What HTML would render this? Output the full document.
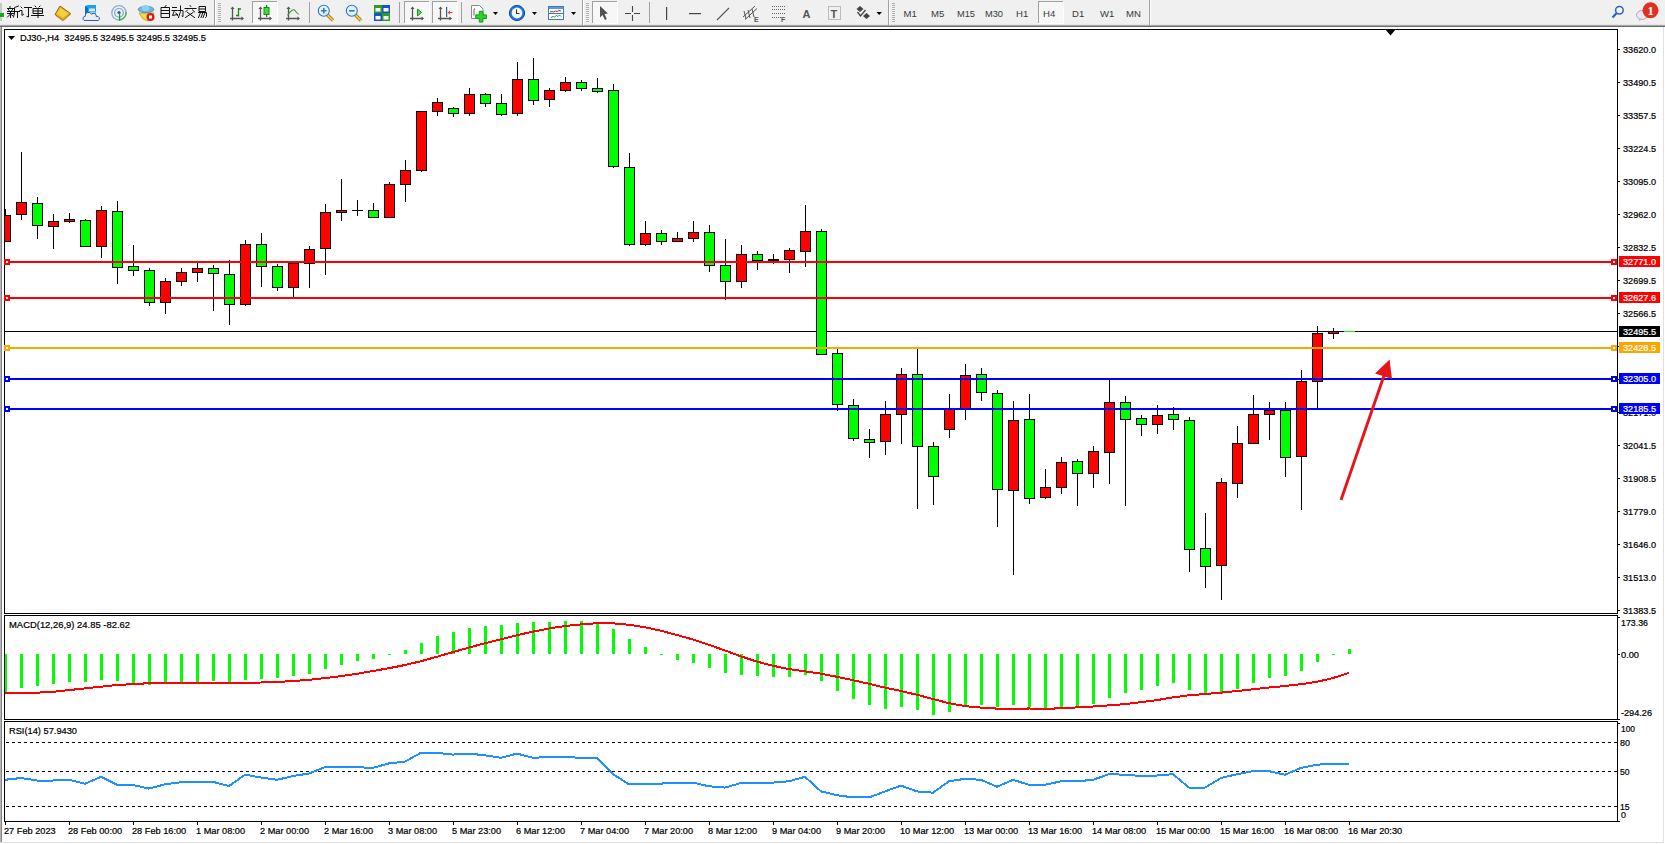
<!DOCTYPE html>
<html><head><meta charset="utf-8">
<style>
html,body{margin:0;padding:0;background:#fff;}
body{width:1665px;height:844px;overflow:hidden;position:relative;font-family:"Liberation Sans",sans-serif;}
svg{position:absolute;left:0;top:0;}
text.t{stroke:#000;stroke-width:0.22px;}
text.w{stroke:#fff;stroke-width:0.22px;}
</style></head><body>
<svg width="1665" height="844" viewBox="0 0 1665 844" font-family="Liberation Sans, sans-serif">

<rect x="0" y="0" width="1665" height="25" fill="#f0f0f0"/>
<rect x="0" y="24" width="1665" height="1" fill="#e4e4e4"/>
<rect x="0" y="25" width="1665" height="1" fill="#a8a8a8"/>
<rect x="0" y="26" width="1665" height="1" fill="#6a6a6a"/>
<rect x="0" y="27" width="1" height="816" fill="#b4b4b4"/>
<rect x="1" y="27" width="1" height="816" fill="#858585"/>
<rect x="1663" y="27" width="1" height="816" fill="#e0e0e0"/>
<rect x="0" y="842" width="1664" height="1" fill="#e0e0e0"/>
<g id="toolbar">
<!-- left partial icon -->
<rect x="0" y="3" width="2" height="18" fill="#c8c8c8"/>
<rect x="0" y="13" width="4" height="4" fill="#12b012"/>
<!-- 新订单 -->
<g stroke="#111" stroke-width="1" fill="none" stroke-linecap="square">
<path d="M10 6.5v1 M7.5 8.5h6 M8.5 9.5l.6 1 M12.5 9.5l-.6 1 M7.5 11.5h6 M7.5 13.5h6 M10.5 11.5v6 M10.5 14l-3 3 M10.5 14l2.5 2"/>
<path d="M18.5 6l-4 1.5v5.5l-1 4 M14.5 11.5h5 M17.5 11.5v6"/>
<path d="M21 7l1 1 M20 10.5h2v5l1.5-1.2 M24.5 7.5h7 M28.5 7.5v9.5l-1.5-.5"/>
<path d="M35 6l1 1 M40 6l-1 1 M33.5 8.5h9v5h-9z M33.5 11h9 M38 8.5v9 M31.5 15.5h12"/>
</g>
<!-- gold book -->
<polygon points="60,6 70.5,13.5 63,20.5 55,14.5" fill="#e6b422" stroke="#9a5a18" stroke-width="1"/><polygon points="60.5,8 68.5,13.5 62.8,17.5 57,13.5" fill="#f4d03a"/><path d="M56 16l7 5 8-7" stroke="#c89a50" stroke-width="0.8" fill="none"/>
<!-- cloud db icon -->
<polygon points="85,6 88,5 96,5 96,14 85,14" fill="#1aa0f0"/><polygon points="85,6 88,8 88,14 85,14" fill="#0a70d0"/><rect x="89" y="8.5" width="6" height="2.5" fill="#d8f0ff"/><rect x="88.5" y="11.5" width="7" height="2.5" fill="#9ad4fa"/>
<path d="M84 20.5 A2.3 2.3 0 0 1 85.3 16.3 A3.3 3.3 0 0 1 91.5 14.2 A2.8 2.8 0 0 1 96.3 16.6 A2.1 2.1 0 0 1 98.2 20.5 Z" fill="#e8ecf4" stroke="#3a5aa0" stroke-width="1"/>
<!-- signal icon -->
<circle cx="119" cy="12.8" r="7.2" fill="none" stroke="#8aaee0" stroke-width="1.3"/>
<circle cx="119" cy="12.8" r="4.3" fill="none" stroke="#7aa8d8" stroke-width="1.2"/>
<path d="M119 20 A7.2 7.2 0 0 0 126 12" fill="none" stroke="#5bb35b" stroke-width="1.5"/>
<circle cx="119" cy="12.5" r="1.6" fill="#2a5ac8"/>
<rect x="119" y="13" width="1.2" height="7.5" fill="#18a018"/>
<!-- EA hat icon -->
<polygon points="139,13 154,13 148,21 143,19" fill="#f2d84a" stroke="#c89a20" stroke-width="0.8"/>
<ellipse cx="146" cy="9.5" rx="7.8" ry="3.2" fill="#6cb8e0" stroke="#3a8ab8" stroke-width="0.8"/>
<ellipse cx="145.5" cy="8" rx="4" ry="3" fill="#8ed0f0"/>
<circle cx="150.5" cy="17" r="4" fill="#d82010"/>
<rect x="149" y="15.5" width="3" height="3" fill="#fff"/>
<!-- 自动交易 -->
<g stroke="#111" stroke-width="1" fill="none" stroke-linecap="square">
<path d="M166 5.5l-1 1.2 M161.5 7.5h8v10h-8z M161.5 10.5h8 M161.5 13.5h8"/>
<path d="M172.5 7.5h4 M172 10.5h5 M174.5 10.5l-2 5 5-1 M176 13l1.5 2.5 M178 10.5h5v6l-1-.5 M180.5 6v5.5l-2 6"/>
<path d="M190 5.5l.8 1 M185 8.5h11 M187.5 10l-1.8 1.8 M192.5 10l2 1.8 M187.5 12.5l7 5 M193 12.5l-7.5 5"/>
<path d="M199.5 6.5h6v5h-6z M199.5 9h6 M198.5 12.5h8v4l-1 1 M200.5 12.5l-2 5 M203 12.5l-2 5 M205 13l-2 4.5"/>
</g>
<!-- separator and grip -->
<rect x="214" y="0" width="1" height="25" fill="#a0a0a0"/>
<rect x="215" y="0" width="1" height="25" fill="#ffffff"/>
<g fill="#b0b0b0"><rect x="218" y="3" width="3" height="1"/><rect x="218" y="5" width="3" height="1"/><rect x="218" y="7" width="3" height="1"/><rect x="218" y="9" width="3" height="1"/><rect x="218" y="11" width="3" height="1"/><rect x="218" y="13" width="3" height="1"/><rect x="218" y="15" width="3" height="1"/><rect x="218" y="17" width="3" height="1"/><rect x="218" y="19" width="3" height="1"/><rect x="218" y="21" width="3" height="1"/></g>
<!-- pressed frames -->
<g>
<rect x="252" y="1" width="25" height="22" fill="#f7f7f7"/><rect x="252" y="1" width="25" height="1" fill="#a0a0a0"/><rect x="252" y="1" width="1" height="22" fill="#a0a0a0"/><rect x="277" y="1" width="1" height="23" fill="#fff"/><rect x="252" y="23" width="26" height="1" fill="#fff"/>
<rect x="404" y="1" width="25" height="22" fill="#f7f7f7"/><rect x="404" y="1" width="25" height="1" fill="#a0a0a0"/><rect x="404" y="1" width="1" height="22" fill="#a0a0a0"/><rect x="429" y="1" width="1" height="23" fill="#fff"/><rect x="404" y="23" width="26" height="1" fill="#fff"/>
<rect x="432" y="1" width="25" height="22" fill="#f7f7f7"/><rect x="432" y="1" width="25" height="1" fill="#a0a0a0"/><rect x="432" y="1" width="1" height="22" fill="#a0a0a0"/><rect x="457" y="1" width="1" height="23" fill="#fff"/><rect x="432" y="23" width="26" height="1" fill="#fff"/>
<rect x="592" y="1" width="25" height="22" fill="#f7f7f7"/><rect x="592" y="1" width="25" height="1" fill="#a0a0a0"/><rect x="592" y="1" width="1" height="22" fill="#a0a0a0"/><rect x="617" y="1" width="1" height="23" fill="#fff"/><rect x="592" y="23" width="26" height="1" fill="#fff"/>
<rect x="1038" y="1" width="25" height="22" fill="#f7f7f7"/><rect x="1038" y="1" width="25" height="1" fill="#a0a0a0"/><rect x="1038" y="1" width="1" height="22" fill="#a0a0a0"/><rect x="1063" y="1" width="1" height="23" fill="#fff"/><rect x="1038" y="23" width="26" height="1" fill="#fff"/>
</g>
<!-- axis icons -->
<g stroke="#555" stroke-width="1.3" fill="#555">
<path d="M232.5 20.5v-13 M230 18.5h13" fill="none"/><polygon points="232.5,6.5 230.5,9 234.5,9" stroke="none"/><polygon points="244,18.5 241.5,16.5 241.5,20.5" stroke="none"/>
<path d="M260.5 20.5v-13 M258 18.5h13" fill="none"/><polygon points="260.5,6.5 258.5,9 262.5,9" stroke="none"/><polygon points="272,18.5 269.5,16.5 269.5,20.5" stroke="none"/>
<path d="M288.5 20.5v-13 M286 18.5h13" fill="none"/><polygon points="288.5,6.5 286.5,9 290.5,9" stroke="none"/><polygon points="300,18.5 297.5,16.5 297.5,20.5" stroke="none"/>
<path d="M412.5 20.5v-13 M410 18.5h13" fill="none"/><polygon points="412.5,6.5 410.5,9 414.5,9" stroke="none"/><polygon points="424,18.5 421.5,16.5 421.5,20.5" stroke="none"/>
<path d="M440.5 20.5v-13 M438 18.5h13" fill="none"/><polygon points="440.5,6.5 438.5,9 442.5,9" stroke="none"/><polygon points="452,18.5 449.5,16.5 449.5,20.5" stroke="none"/>
</g>
<path d="M238.5 8v8.5 M238.5 9h2.5 M238.5 15.5h-2.5" stroke="#109010" stroke-width="1.3" fill="none"/>
<rect x="266" y="5" width="1.2" height="12" fill="#108a10"/>
<rect x="264" y="7.5" width="5" height="7" fill="#40dd40" stroke="#108a10" stroke-width="1"/>
<path d="M287.5 15.5 Q293 7.5 295 10.5 Q297 13.5 298.8 14.2" stroke="#2aa02a" stroke-width="1.1" fill="none"/>
<polygon points="417.5,9 421.5,12.5 417.5,16" fill="#50e050" stroke="#10a010" stroke-width="1"/>
<rect x="446" y="7" width="1.2" height="10" fill="#1a6aa0"/>
<polygon points="447.5,12.5 450,10.5 450,12 452.5,12 452.5,13 450,13 450,14.5" fill="#e85010"/>
<!-- separators -->
<rect x="309" y="2" width="1" height="21" fill="#a0a0a0"/>
<rect x="399" y="2" width="1" height="21" fill="#a0a0a0"/>
<rect x="461" y="2" width="1" height="21" fill="#a0a0a0"/>
<rect x="649" y="2" width="1" height="21" fill="#a0a0a0"/>
<!-- zoom icons -->
<g>
<line x1="327.5" y1="15" x2="333" y2="20.5" stroke="#b07a10" stroke-width="3.2"/>
<line x1="327.5" y1="15" x2="333" y2="20.5" stroke="#f0d840" stroke-width="1.6"/>
<circle cx="323.8" cy="10.8" r="5.5" fill="#dff2fc" stroke="#2a78c8" stroke-width="1.1"/>
<path d="M321 10.8h5.6 M323.8 8v5.6" stroke="#3a7aa8" stroke-width="1.6"/>
<line x1="355.5" y1="15" x2="361" y2="20.5" stroke="#b07a10" stroke-width="3.2"/>
<line x1="355.5" y1="15" x2="361" y2="20.5" stroke="#f0d840" stroke-width="1.6"/>
<circle cx="351.8" cy="10.8" r="5.5" fill="#dff2fc" stroke="#2a78c8" stroke-width="1.1"/>
<path d="M349 10.8h5.6" stroke="#3a7aa8" stroke-width="1.6"/>
</g>
<!-- tile icon -->
<rect x="374" y="5" width="8" height="8" fill="#2aa020"/><rect x="382" y="5" width="8" height="8" fill="#1a50c8"/>
<rect x="374" y="13" width="8" height="8" fill="#1a50c8"/><rect x="382" y="13" width="8" height="8" fill="#2aa020"/>
<g fill="#fff"><rect x="375.5" y="8" width="5" height="3.5"/><rect x="383.5" y="8" width="5" height="3.5"/><rect x="375.5" y="16" width="5" height="3.5"/><rect x="383.5" y="16" width="5" height="3.5"/></g>
<!-- add indicator -->
<path d="M471.5 5.5h8l3.5 3.5v9.5h-11.5z" fill="#fafafa" stroke="#8a8a8a" stroke-width="1"/>
<path d="M475 8.5q-1 0-1 2v5" stroke="#555" stroke-width="0.9" fill="none"/>
<path d="M479.3 11.3h3.6v3.6h3.6v3.6h-3.6v3.6h-3.6v-3.6h-3.6v-3.6h3.6z" fill="#30d030" stroke="#10a010" stroke-width="1"/>
<polygon points="493,12 498,12 495.5,15" fill="#000"/>
<!-- clock -->
<circle cx="517" cy="13" r="7.6" fill="#1a78d8" stroke="#0a4aa0" stroke-width="1"/>
<circle cx="517" cy="13" r="5.4" fill="#f4f8fc"/>
<path d="M516.5 9.5v4h3" stroke="#333" stroke-width="1.1" fill="none"/>
<polygon points="532,12 537,12 534.5,15" fill="#000"/>
<!-- templates -->
<rect x="548.5" y="6.5" width="15" height="13" fill="#fff" stroke="#3a78c8" stroke-width="1"/>
<rect x="549" y="7" width="14" height="2" fill="#5a9ae0"/>
<rect x="549" y="13" width="14" height="1" fill="#3a78c8"/>
<path d="M550 12l2-.5 1.5.5 2-1 1.5.5 2-1 2 .5" stroke="#a02010" stroke-width="0.9" fill="none"/>
<path d="M551 17.5l2-1 1.5.5 2-1.5 1.5 1 1.5-1.5 1.5 1.5" stroke="#109010" stroke-width="0.9" fill="none"/>
<polygon points="571,12 576,12 573.5,15" fill="#000"/>
<!-- toolbar boundary + grip -->
<rect x="582" y="0" width="1" height="25" fill="#a0a0a0"/>
<rect x="583" y="0" width="1" height="25" fill="#fff"/>
<g fill="#b0b0b0"><rect x="586" y="3" width="3" height="1"/><rect x="586" y="5" width="3" height="1"/><rect x="586" y="7" width="3" height="1"/><rect x="586" y="9" width="3" height="1"/><rect x="586" y="11" width="3" height="1"/><rect x="586" y="13" width="3" height="1"/><rect x="586" y="15" width="3" height="1"/><rect x="586" y="17" width="3" height="1"/><rect x="586" y="19" width="3" height="1"/><rect x="586" y="21" width="3" height="1"/></g>
<!-- cursor -->
<polygon points="600,6 608,13.5 604.5,14 606.8,19 605,20 602.5,15 600,17.5" fill="#505050"/>
<!-- crosshair -->
<path d="M625 13.5h6 M634 13.5h6 M632.5 6v6 M632.5 15v6" stroke="#444" stroke-width="1.1"/>
<!-- vertical line -->
<rect x="666" y="7" width="1.2" height="13" fill="#444"/>
<!-- horizontal line -->
<rect x="689" y="13" width="12" height="1.2" fill="#444"/>
<!-- trend line -->
<line x1="717" y1="20" x2="729" y2="8" stroke="#555" stroke-width="1.1"/>
<!-- channel -->
<g stroke="#555" stroke-width="1" fill="none">
<path d="M743 17l12-11 M745 19.5l12-11 M744 11l2 8 M748 10l2 8 M752 9l2 8"/>
</g>
<text x="754" y="21.5" font-size="7" font-weight="bold" fill="#555">E</text>
<!-- fibo -->
<g stroke="#666" stroke-width="1" stroke-dasharray="1,1" fill="none">
<path d="M772 6.5h13 M772 9.5h13 M772 13.5h13 M772 17.5h9"/>
</g>
<text x="781" y="21.5" font-size="7" font-weight="bold" fill="#555">F</text>
<!-- text A -->
<text x="802.5" y="18" font-size="11" font-weight="bold" fill="#555">A</text>
<!-- text label T -->
<rect x="828.5" y="6.5" width="12" height="13" fill="none" stroke="#888" stroke-width="1" stroke-dasharray="1,1"/>
<text x="830.5" y="17.5" font-size="11" font-weight="bold" fill="#555">T</text>
<!-- arrows -->
<polygon points="860,6 863.5,9 860,12 856.5,9" fill="#444"/>
<path d="M857.5 12l3 4 5-6" stroke="#444" stroke-width="1.3" fill="none"/>
<polygon points="866.5,13 870,16 866.5,19 863,16" fill="#444"/>
<polygon points="876.5,12 882,12 879.2,15" fill="#000"/>
<!-- separator + grip -->
<rect x="888" y="0" width="1" height="25" fill="#a0a0a0"/>
<rect x="889" y="0" width="1" height="25" fill="#fff"/>
<g fill="#b0b0b0"><rect x="892" y="3" width="3" height="1"/><rect x="892" y="5" width="3" height="1"/><rect x="892" y="7" width="3" height="1"/><rect x="892" y="9" width="3" height="1"/><rect x="892" y="11" width="3" height="1"/><rect x="892" y="13" width="3" height="1"/><rect x="892" y="15" width="3" height="1"/><rect x="892" y="17" width="3" height="1"/><rect x="892" y="19" width="3" height="1"/><rect x="892" y="21" width="3" height="1"/></g>
<!-- timeframes -->
<g font-size="9.6" fill="#3a3a3a">
<text x="903.5" y="17">M1</text>
<text x="931" y="17">M5</text>
<text x="957" y="17" textLength="18" lengthAdjust="spacingAndGlyphs">M15</text>
<text x="985" y="17" textLength="18" lengthAdjust="spacingAndGlyphs">M30</text>
<text x="1016" y="17">H1</text>
<text x="1043" y="17">H4</text>
<text x="1072" y="17">D1</text>
<text x="1100" y="17">W1</text>
<text x="1126" y="17">MN</text>
</g>
<rect x="1149" y="0" width="1" height="25" fill="#a0a0a0"/>
<rect x="1150" y="0" width="1" height="25" fill="#fff"/>
<!-- search -->
<circle cx="1619.4" cy="10.2" r="3.8" fill="#f8f8ff" stroke="#2a60d0" stroke-width="1.5"/>
<line x1="1616.5" y1="13.2" x2="1612.5" y2="17.5" stroke="#2a60d0" stroke-width="2.2"/>
<!-- chat bubble + badge -->
<ellipse cx="1642" cy="15" rx="5.5" ry="4.5" fill="#e8e8f0" stroke="#a8a8a8" stroke-width="0.9"/>
<polygon points="1639,18.5 1639,21.5 1642,19" fill="#c0c0c0"/>
<circle cx="1650.5" cy="10.3" r="8" fill="#e03020"/>
<text x="1650.6" y="15" font-size="12.5" font-weight="bold" fill="#fff" text-anchor="middle" font-family="Liberation Serif, serif">1</text>
</g>

<defs><clipPath id="cm"><rect x="5" y="30" width="1612" height="583"/></clipPath><clipPath id="cd"><rect x="5" y="616" width="1612" height="103"/></clipPath><clipPath id="cr"><rect x="5" y="722" width="1612" height="99"/></clipPath></defs>
<g clip-path="url(#cm)" shape-rendering="crispEdges">
<rect x="4" y="331" width="1613" height="1" fill="#000"/>
<rect x="5" y="209" width="1" height="33" fill="#000"/>
<rect x="0" y="215" width="11" height="27" fill="#000"/>
<rect x="1" y="216" width="9" height="25" fill="#ff0000"/>
<rect x="21" y="152" width="1" height="68" fill="#000"/>
<rect x="16" y="202" width="11" height="13" fill="#000"/>
<rect x="17" y="203" width="9" height="11" fill="#ff0000"/>
<rect x="37" y="197" width="1" height="42" fill="#000"/>
<rect x="32" y="203" width="11" height="23" fill="#000"/>
<rect x="33" y="204" width="9" height="21" fill="#00ff00"/>
<rect x="53" y="214" width="1" height="35" fill="#000"/>
<rect x="48" y="221" width="11" height="6" fill="#000"/>
<rect x="49" y="222" width="9" height="4" fill="#ff0000"/>
<rect x="69" y="213" width="1" height="10" fill="#000"/>
<rect x="64" y="219" width="11" height="3" fill="#000"/>
<rect x="65" y="220" width="9" height="1" fill="#ff0000"/>
<rect x="85" y="219" width="1" height="28" fill="#000"/>
<rect x="80" y="220" width="11" height="27" fill="#000"/>
<rect x="81" y="221" width="9" height="25" fill="#00ff00"/>
<rect x="101" y="206" width="1" height="52" fill="#000"/>
<rect x="96" y="210" width="11" height="37" fill="#000"/>
<rect x="97" y="211" width="9" height="35" fill="#ff0000"/>
<rect x="117" y="201" width="1" height="83" fill="#000"/>
<rect x="112" y="211" width="11" height="57" fill="#000"/>
<rect x="113" y="212" width="9" height="55" fill="#00ff00"/>
<rect x="133" y="245" width="1" height="31" fill="#000"/>
<rect x="128" y="266" width="11" height="5" fill="#000"/>
<rect x="129" y="267" width="9" height="3" fill="#00ff00"/>
<rect x="149" y="268" width="1" height="38" fill="#000"/>
<rect x="144" y="270" width="11" height="33" fill="#000"/>
<rect x="145" y="271" width="9" height="31" fill="#00ff00"/>
<rect x="165" y="278" width="1" height="36" fill="#000"/>
<rect x="160" y="281" width="11" height="22" fill="#000"/>
<rect x="161" y="282" width="9" height="20" fill="#ff0000"/>
<rect x="181" y="268" width="1" height="18" fill="#000"/>
<rect x="176" y="272" width="11" height="10" fill="#000"/>
<rect x="177" y="273" width="9" height="8" fill="#ff0000"/>
<rect x="197" y="263" width="1" height="19" fill="#000"/>
<rect x="192" y="268" width="11" height="5" fill="#000"/>
<rect x="193" y="269" width="9" height="3" fill="#ff0000"/>
<rect x="213" y="265" width="1" height="46" fill="#000"/>
<rect x="208" y="268" width="11" height="6" fill="#000"/>
<rect x="209" y="269" width="9" height="4" fill="#00ff00"/>
<rect x="229" y="260" width="1" height="65" fill="#000"/>
<rect x="224" y="274" width="11" height="31" fill="#000"/>
<rect x="225" y="275" width="9" height="29" fill="#00ff00"/>
<rect x="245" y="240" width="1" height="66" fill="#000"/>
<rect x="240" y="244" width="11" height="61" fill="#000"/>
<rect x="241" y="245" width="9" height="59" fill="#ff0000"/>
<rect x="261" y="233" width="1" height="54" fill="#000"/>
<rect x="256" y="244" width="11" height="23" fill="#000"/>
<rect x="257" y="245" width="9" height="21" fill="#00ff00"/>
<rect x="277" y="264" width="1" height="27" fill="#000"/>
<rect x="272" y="266" width="11" height="22" fill="#000"/>
<rect x="273" y="267" width="9" height="20" fill="#00ff00"/>
<rect x="293" y="262" width="1" height="36" fill="#000"/>
<rect x="288" y="263" width="11" height="25" fill="#000"/>
<rect x="289" y="264" width="9" height="23" fill="#ff0000"/>
<rect x="309" y="246" width="1" height="42" fill="#000"/>
<rect x="304" y="249" width="11" height="15" fill="#000"/>
<rect x="305" y="250" width="9" height="13" fill="#ff0000"/>
<rect x="325" y="204" width="1" height="71" fill="#000"/>
<rect x="320" y="212" width="11" height="37" fill="#000"/>
<rect x="321" y="213" width="9" height="35" fill="#ff0000"/>
<rect x="341" y="179" width="1" height="42" fill="#000"/>
<rect x="336" y="210" width="11" height="3" fill="#000"/>
<rect x="337" y="211" width="9" height="1" fill="#ff0000"/>
<rect x="357" y="200" width="1" height="16" fill="#000"/>
<rect x="352" y="210" width="11" height="1" fill="#000"/>
<rect x="373" y="203" width="1" height="15" fill="#000"/>
<rect x="368" y="210" width="11" height="8" fill="#000"/>
<rect x="369" y="211" width="9" height="6" fill="#00ff00"/>
<rect x="389" y="182" width="1" height="36" fill="#000"/>
<rect x="384" y="184" width="11" height="34" fill="#000"/>
<rect x="385" y="185" width="9" height="32" fill="#ff0000"/>
<rect x="405" y="160" width="1" height="42" fill="#000"/>
<rect x="400" y="170" width="11" height="15" fill="#000"/>
<rect x="401" y="171" width="9" height="13" fill="#ff0000"/>
<rect x="421" y="111" width="1" height="61" fill="#000"/>
<rect x="416" y="111" width="11" height="60" fill="#000"/>
<rect x="417" y="112" width="9" height="58" fill="#ff0000"/>
<rect x="437" y="98" width="1" height="18" fill="#000"/>
<rect x="432" y="102" width="11" height="10" fill="#000"/>
<rect x="433" y="103" width="9" height="8" fill="#ff0000"/>
<rect x="453" y="107" width="1" height="10" fill="#000"/>
<rect x="448" y="108" width="11" height="6" fill="#000"/>
<rect x="449" y="109" width="9" height="4" fill="#00ff00"/>
<rect x="469" y="88" width="1" height="28" fill="#000"/>
<rect x="464" y="94" width="11" height="20" fill="#000"/>
<rect x="465" y="95" width="9" height="18" fill="#ff0000"/>
<rect x="485" y="93" width="1" height="14" fill="#000"/>
<rect x="480" y="94" width="11" height="10" fill="#000"/>
<rect x="481" y="95" width="9" height="8" fill="#00ff00"/>
<rect x="501" y="94" width="1" height="22" fill="#000"/>
<rect x="496" y="103" width="11" height="12" fill="#000"/>
<rect x="497" y="104" width="9" height="10" fill="#00ff00"/>
<rect x="517" y="62" width="1" height="54" fill="#000"/>
<rect x="512" y="79" width="11" height="35" fill="#000"/>
<rect x="513" y="80" width="9" height="33" fill="#ff0000"/>
<rect x="533" y="58" width="1" height="47" fill="#000"/>
<rect x="528" y="79" width="11" height="22" fill="#000"/>
<rect x="529" y="80" width="9" height="20" fill="#00ff00"/>
<rect x="549" y="88" width="1" height="19" fill="#000"/>
<rect x="544" y="90" width="11" height="10" fill="#000"/>
<rect x="545" y="91" width="9" height="8" fill="#ff0000"/>
<rect x="565" y="77" width="1" height="15" fill="#000"/>
<rect x="560" y="82" width="11" height="9" fill="#000"/>
<rect x="561" y="83" width="9" height="7" fill="#ff0000"/>
<rect x="581" y="80" width="1" height="11" fill="#000"/>
<rect x="576" y="82" width="11" height="7" fill="#000"/>
<rect x="577" y="83" width="9" height="5" fill="#00ff00"/>
<rect x="597" y="78" width="1" height="15" fill="#000"/>
<rect x="592" y="88" width="11" height="4" fill="#000"/>
<rect x="593" y="89" width="9" height="2" fill="#00ff00"/>
<rect x="613" y="84" width="1" height="84" fill="#000"/>
<rect x="608" y="90" width="11" height="77" fill="#000"/>
<rect x="609" y="91" width="9" height="75" fill="#00ff00"/>
<rect x="629" y="153" width="1" height="93" fill="#000"/>
<rect x="624" y="167" width="11" height="78" fill="#000"/>
<rect x="625" y="168" width="9" height="76" fill="#00ff00"/>
<rect x="645" y="221" width="1" height="25" fill="#000"/>
<rect x="640" y="233" width="11" height="12" fill="#000"/>
<rect x="641" y="234" width="9" height="10" fill="#ff0000"/>
<rect x="661" y="230" width="1" height="15" fill="#000"/>
<rect x="656" y="233" width="11" height="9" fill="#000"/>
<rect x="657" y="234" width="9" height="7" fill="#00ff00"/>
<rect x="677" y="232" width="1" height="10" fill="#000"/>
<rect x="672" y="238" width="11" height="4" fill="#000"/>
<rect x="673" y="239" width="9" height="2" fill="#ff0000"/>
<rect x="693" y="221" width="1" height="21" fill="#000"/>
<rect x="688" y="232" width="11" height="7" fill="#000"/>
<rect x="689" y="233" width="9" height="5" fill="#ff0000"/>
<rect x="709" y="225" width="1" height="47" fill="#000"/>
<rect x="704" y="232" width="11" height="34" fill="#000"/>
<rect x="705" y="233" width="9" height="32" fill="#00ff00"/>
<rect x="725" y="239" width="1" height="61" fill="#000"/>
<rect x="720" y="265" width="11" height="17" fill="#000"/>
<rect x="721" y="266" width="9" height="15" fill="#00ff00"/>
<rect x="741" y="245" width="1" height="43" fill="#000"/>
<rect x="736" y="254" width="11" height="28" fill="#000"/>
<rect x="737" y="255" width="9" height="26" fill="#ff0000"/>
<rect x="757" y="251" width="1" height="19" fill="#000"/>
<rect x="752" y="254" width="11" height="7" fill="#000"/>
<rect x="753" y="255" width="9" height="5" fill="#00ff00"/>
<rect x="773" y="254" width="1" height="10" fill="#000"/>
<rect x="768" y="259" width="11" height="2" fill="#000"/>
<rect x="789" y="248" width="1" height="25" fill="#000"/>
<rect x="784" y="250" width="11" height="10" fill="#000"/>
<rect x="785" y="251" width="9" height="8" fill="#ff0000"/>
<rect x="805" y="205" width="1" height="62" fill="#000"/>
<rect x="800" y="231" width="11" height="21" fill="#000"/>
<rect x="801" y="232" width="9" height="19" fill="#ff0000"/>
<rect x="821" y="229" width="1" height="126" fill="#000"/>
<rect x="816" y="231" width="11" height="124" fill="#000"/>
<rect x="817" y="232" width="9" height="122" fill="#00ff00"/>
<rect x="837" y="349" width="1" height="62" fill="#000"/>
<rect x="832" y="353" width="11" height="52" fill="#000"/>
<rect x="833" y="354" width="9" height="50" fill="#00ff00"/>
<rect x="853" y="399" width="1" height="42" fill="#000"/>
<rect x="848" y="405" width="11" height="34" fill="#000"/>
<rect x="849" y="406" width="9" height="32" fill="#00ff00"/>
<rect x="869" y="429" width="1" height="29" fill="#000"/>
<rect x="864" y="439" width="11" height="4" fill="#000"/>
<rect x="865" y="440" width="9" height="2" fill="#00ff00"/>
<rect x="885" y="401" width="1" height="54" fill="#000"/>
<rect x="880" y="414" width="11" height="28" fill="#000"/>
<rect x="881" y="415" width="9" height="26" fill="#ff0000"/>
<rect x="901" y="368" width="1" height="76" fill="#000"/>
<rect x="896" y="374" width="11" height="41" fill="#000"/>
<rect x="897" y="375" width="9" height="39" fill="#ff0000"/>
<rect x="917" y="349" width="1" height="160" fill="#000"/>
<rect x="912" y="374" width="11" height="73" fill="#000"/>
<rect x="913" y="375" width="9" height="71" fill="#00ff00"/>
<rect x="933" y="442" width="1" height="63" fill="#000"/>
<rect x="928" y="446" width="11" height="31" fill="#000"/>
<rect x="929" y="447" width="9" height="29" fill="#00ff00"/>
<rect x="949" y="394" width="1" height="44" fill="#000"/>
<rect x="944" y="409" width="11" height="21" fill="#000"/>
<rect x="945" y="410" width="9" height="19" fill="#ff0000"/>
<rect x="965" y="364" width="1" height="56" fill="#000"/>
<rect x="960" y="375" width="11" height="34" fill="#000"/>
<rect x="961" y="376" width="9" height="32" fill="#ff0000"/>
<rect x="981" y="368" width="1" height="33" fill="#000"/>
<rect x="976" y="374" width="11" height="19" fill="#000"/>
<rect x="977" y="375" width="9" height="17" fill="#00ff00"/>
<rect x="997" y="390" width="1" height="137" fill="#000"/>
<rect x="992" y="393" width="11" height="97" fill="#000"/>
<rect x="993" y="394" width="9" height="95" fill="#00ff00"/>
<rect x="1013" y="401" width="1" height="174" fill="#000"/>
<rect x="1008" y="420" width="11" height="71" fill="#000"/>
<rect x="1009" y="421" width="9" height="69" fill="#ff0000"/>
<rect x="1029" y="394" width="1" height="110" fill="#000"/>
<rect x="1024" y="419" width="11" height="80" fill="#000"/>
<rect x="1025" y="420" width="9" height="78" fill="#00ff00"/>
<rect x="1045" y="469" width="1" height="30" fill="#000"/>
<rect x="1040" y="487" width="11" height="11" fill="#000"/>
<rect x="1041" y="488" width="9" height="9" fill="#ff0000"/>
<rect x="1061" y="457" width="1" height="37" fill="#000"/>
<rect x="1056" y="462" width="11" height="26" fill="#000"/>
<rect x="1057" y="463" width="9" height="24" fill="#ff0000"/>
<rect x="1077" y="459" width="1" height="47" fill="#000"/>
<rect x="1072" y="461" width="11" height="13" fill="#000"/>
<rect x="1073" y="462" width="9" height="11" fill="#00ff00"/>
<rect x="1093" y="446" width="1" height="42" fill="#000"/>
<rect x="1088" y="451" width="11" height="23" fill="#000"/>
<rect x="1089" y="452" width="9" height="21" fill="#ff0000"/>
<rect x="1109" y="380" width="1" height="104" fill="#000"/>
<rect x="1104" y="402" width="11" height="51" fill="#000"/>
<rect x="1105" y="403" width="9" height="49" fill="#ff0000"/>
<rect x="1125" y="396" width="1" height="110" fill="#000"/>
<rect x="1120" y="402" width="11" height="18" fill="#000"/>
<rect x="1121" y="403" width="9" height="16" fill="#00ff00"/>
<rect x="1141" y="415" width="1" height="21" fill="#000"/>
<rect x="1136" y="418" width="11" height="7" fill="#000"/>
<rect x="1137" y="419" width="9" height="5" fill="#00ff00"/>
<rect x="1157" y="405" width="1" height="29" fill="#000"/>
<rect x="1152" y="415" width="11" height="10" fill="#000"/>
<rect x="1153" y="416" width="9" height="8" fill="#ff0000"/>
<rect x="1173" y="407" width="1" height="23" fill="#000"/>
<rect x="1168" y="414" width="11" height="6" fill="#000"/>
<rect x="1169" y="415" width="9" height="4" fill="#00ff00"/>
<rect x="1189" y="417" width="1" height="155" fill="#000"/>
<rect x="1184" y="420" width="11" height="130" fill="#000"/>
<rect x="1185" y="421" width="9" height="128" fill="#00ff00"/>
<rect x="1205" y="513" width="1" height="75" fill="#000"/>
<rect x="1200" y="548" width="11" height="19" fill="#000"/>
<rect x="1201" y="549" width="9" height="17" fill="#00ff00"/>
<rect x="1221" y="478" width="1" height="122" fill="#000"/>
<rect x="1216" y="482" width="11" height="84" fill="#000"/>
<rect x="1217" y="483" width="9" height="82" fill="#ff0000"/>
<rect x="1237" y="426" width="1" height="72" fill="#000"/>
<rect x="1232" y="443" width="11" height="41" fill="#000"/>
<rect x="1233" y="444" width="9" height="39" fill="#ff0000"/>
<rect x="1253" y="395" width="1" height="49" fill="#000"/>
<rect x="1248" y="414" width="11" height="30" fill="#000"/>
<rect x="1249" y="415" width="9" height="28" fill="#ff0000"/>
<rect x="1269" y="402" width="1" height="38" fill="#000"/>
<rect x="1264" y="410" width="11" height="5" fill="#000"/>
<rect x="1265" y="411" width="9" height="3" fill="#ff0000"/>
<rect x="1285" y="402" width="1" height="75" fill="#000"/>
<rect x="1280" y="410" width="11" height="48" fill="#000"/>
<rect x="1281" y="411" width="9" height="46" fill="#00ff00"/>
<rect x="1301" y="370" width="1" height="140" fill="#000"/>
<rect x="1296" y="381" width="11" height="76" fill="#000"/>
<rect x="1297" y="382" width="9" height="74" fill="#ff0000"/>
<rect x="1317" y="326" width="1" height="82" fill="#000"/>
<rect x="1312" y="333" width="11" height="49" fill="#000"/>
<rect x="1313" y="334" width="9" height="47" fill="#ff0000"/>
<rect x="1333" y="328" width="1" height="11" fill="#000"/>
<rect x="1328" y="331" width="11" height="3" fill="#000"/>
<rect x="1329" y="332" width="9" height="1" fill="#ff0000"/>
<rect x="1344" y="331" width="11" height="1" fill="#00ff00"/>
<rect x="4" y="261" width="1613" height="2" fill="#ff0000"/>
<rect x="4" y="297" width="1613" height="2" fill="#ff0000"/>
<rect x="4" y="347" width="1613" height="2" fill="#ffa500"/>
<rect x="4" y="378" width="1613" height="2" fill="#0000ff"/>
<rect x="4" y="408" width="1613" height="2" fill="#0000ff"/>
</g>
<g clip-path="url(#cm)">
<line x1="1341" y1="500" x2="1385.6" y2="371" stroke="#e8141c" stroke-width="2.9"/>
<polygon points="1389.6,359.5 1375,373.5 1392,379" fill="#e8141c"/>
</g>
<polygon points="1385,29 1396,29 1390.5,35.5" fill="#000"/>
<polygon points="8,36 15,36 11.5,40" fill="#000"/>
<text x="20" y="41" class="t" font-size="9.2" fill="#000" xml:space="preserve" textLength="186" lengthAdjust="spacingAndGlyphs">DJ30-,H4  32495.5 32495.5 32495.5 32495.5</text>
<g clip-path="url(#cd)" shape-rendering="crispEdges">
<rect x="4" y="654" width="3" height="39" fill="#00ff00"/>
<rect x="20" y="654" width="3" height="34" fill="#00ff00"/>
<rect x="36" y="654" width="3" height="32" fill="#00ff00"/>
<rect x="52" y="654" width="3" height="30" fill="#00ff00"/>
<rect x="68" y="654" width="3" height="28" fill="#00ff00"/>
<rect x="84" y="654" width="3" height="28" fill="#00ff00"/>
<rect x="100" y="654" width="3" height="26" fill="#00ff00"/>
<rect x="116" y="654" width="3" height="27" fill="#00ff00"/>
<rect x="132" y="654" width="3" height="29" fill="#00ff00"/>
<rect x="148" y="654" width="3" height="31" fill="#00ff00"/>
<rect x="164" y="654" width="3" height="30" fill="#00ff00"/>
<rect x="180" y="654" width="3" height="30" fill="#00ff00"/>
<rect x="196" y="654" width="3" height="29" fill="#00ff00"/>
<rect x="212" y="654" width="3" height="27" fill="#00ff00"/>
<rect x="228" y="654" width="3" height="30" fill="#00ff00"/>
<rect x="244" y="654" width="3" height="26" fill="#00ff00"/>
<rect x="260" y="654" width="3" height="25" fill="#00ff00"/>
<rect x="276" y="654" width="3" height="24" fill="#00ff00"/>
<rect x="292" y="654" width="3" height="22" fill="#00ff00"/>
<rect x="308" y="654" width="3" height="20" fill="#00ff00"/>
<rect x="324" y="654" width="3" height="15" fill="#00ff00"/>
<rect x="340" y="654" width="3" height="11" fill="#00ff00"/>
<rect x="356" y="654" width="3" height="7" fill="#00ff00"/>
<rect x="372" y="654" width="3" height="5" fill="#00ff00"/>
<rect x="388" y="654" width="3" height="1" fill="#00ff00"/>
<rect x="404" y="650" width="3" height="4" fill="#00ff00"/>
<rect x="420" y="643" width="3" height="11" fill="#00ff00"/>
<rect x="436" y="636" width="3" height="18" fill="#00ff00"/>
<rect x="452" y="632" width="3" height="22" fill="#00ff00"/>
<rect x="468" y="628" width="3" height="26" fill="#00ff00"/>
<rect x="484" y="626" width="3" height="28" fill="#00ff00"/>
<rect x="500" y="625" width="3" height="29" fill="#00ff00"/>
<rect x="516" y="623" width="3" height="31" fill="#00ff00"/>
<rect x="532" y="622" width="3" height="32" fill="#00ff00"/>
<rect x="548" y="622" width="3" height="32" fill="#00ff00"/>
<rect x="564" y="621" width="3" height="33" fill="#00ff00"/>
<rect x="580" y="621" width="3" height="33" fill="#00ff00"/>
<rect x="596" y="622" width="3" height="32" fill="#00ff00"/>
<rect x="612" y="629" width="3" height="25" fill="#00ff00"/>
<rect x="628" y="639" width="3" height="15" fill="#00ff00"/>
<rect x="644" y="647" width="3" height="7" fill="#00ff00"/>
<rect x="660" y="654" width="3" height="1" fill="#00ff00"/>
<rect x="676" y="654" width="3" height="6" fill="#00ff00"/>
<rect x="692" y="654" width="3" height="9" fill="#00ff00"/>
<rect x="708" y="654" width="3" height="14" fill="#00ff00"/>
<rect x="724" y="654" width="3" height="19" fill="#00ff00"/>
<rect x="740" y="654" width="3" height="21" fill="#00ff00"/>
<rect x="756" y="654" width="3" height="22" fill="#00ff00"/>
<rect x="772" y="654" width="3" height="23" fill="#00ff00"/>
<rect x="788" y="654" width="3" height="23" fill="#00ff00"/>
<rect x="804" y="654" width="3" height="21" fill="#00ff00"/>
<rect x="820" y="654" width="3" height="27" fill="#00ff00"/>
<rect x="836" y="654" width="3" height="37" fill="#00ff00"/>
<rect x="852" y="654" width="3" height="45" fill="#00ff00"/>
<rect x="868" y="654" width="3" height="51" fill="#00ff00"/>
<rect x="884" y="654" width="3" height="55" fill="#00ff00"/>
<rect x="900" y="654" width="3" height="53" fill="#00ff00"/>
<rect x="916" y="654" width="3" height="56" fill="#00ff00"/>
<rect x="932" y="654" width="3" height="61" fill="#00ff00"/>
<rect x="948" y="654" width="3" height="58" fill="#00ff00"/>
<rect x="964" y="654" width="3" height="53" fill="#00ff00"/>
<rect x="980" y="654" width="3" height="51" fill="#00ff00"/>
<rect x="996" y="654" width="3" height="53" fill="#00ff00"/>
<rect x="1012" y="654" width="3" height="51" fill="#00ff00"/>
<rect x="1028" y="654" width="3" height="53" fill="#00ff00"/>
<rect x="1044" y="654" width="3" height="55" fill="#00ff00"/>
<rect x="1060" y="654" width="3" height="53" fill="#00ff00"/>
<rect x="1076" y="654" width="3" height="53" fill="#00ff00"/>
<rect x="1092" y="654" width="3" height="50" fill="#00ff00"/>
<rect x="1108" y="654" width="3" height="44" fill="#00ff00"/>
<rect x="1124" y="654" width="3" height="39" fill="#00ff00"/>
<rect x="1140" y="654" width="3" height="36" fill="#00ff00"/>
<rect x="1156" y="654" width="3" height="32" fill="#00ff00"/>
<rect x="1172" y="654" width="3" height="29" fill="#00ff00"/>
<rect x="1188" y="654" width="3" height="36" fill="#00ff00"/>
<rect x="1204" y="654" width="3" height="41" fill="#00ff00"/>
<rect x="1220" y="654" width="3" height="40" fill="#00ff00"/>
<rect x="1236" y="654" width="3" height="35" fill="#00ff00"/>
<rect x="1252" y="654" width="3" height="29" fill="#00ff00"/>
<rect x="1268" y="654" width="3" height="24" fill="#00ff00"/>
<rect x="1284" y="654" width="3" height="22" fill="#00ff00"/>
<rect x="1300" y="654" width="3" height="17" fill="#00ff00"/>
<rect x="1316" y="654" width="3" height="8" fill="#00ff00"/>
<rect x="1332" y="654" width="3" height="1" fill="#00ff00"/>
<rect x="1348" y="649" width="3" height="5" fill="#00ff00"/>
</g>
<g clip-path="url(#cd)">
<polyline points="5.0,692.7 21.0,692.7 37.0,692.7 53.0,691.8 69.0,690.1 85.0,688.4 101.0,686.7 117.0,685.0 133.0,684.1 149.0,683.2 165.0,682.9 181.0,682.7 197.0,682.6 213.0,682.5 229.0,682.7 245.0,682.7 261.0,682.5 277.0,682.0 293.0,681.0 309.0,679.8 325.0,678.1 341.0,676.1 357.0,673.8 373.0,671.0 389.0,668.2 405.0,665.0 421.0,661.2 437.0,656.7 453.0,652.1 469.0,647.6 485.0,643.2 501.0,639.2 517.0,635.2 533.0,631.6 549.0,628.5 565.0,626.0 581.0,624.4 597.0,623.2 613.0,623.3 629.0,624.8 645.0,627.2 661.0,630.8 677.0,635.0 693.0,639.5 709.0,644.8 725.0,650.5 741.0,656.4 757.0,661.6 773.0,665.8 789.0,669.1 805.0,671.3 821.0,673.7 837.0,676.8 853.0,680.2 869.0,683.8 885.0,687.6 901.0,691.0 917.0,694.8 933.0,699.0 949.0,703.2 965.0,706.1 981.0,707.6 997.0,708.6 1013.0,708.6 1029.0,708.5 1045.0,708.8 1061.0,708.3 1077.0,707.4 1093.0,706.5 1109.0,705.4 1125.0,704.1 1141.0,702.2 1157.0,700.1 1173.0,697.4 1189.0,695.3 1205.0,694.0 1221.0,692.6 1237.0,691.0 1253.0,689.3 1269.0,687.5 1285.0,686.0 1301.0,684.2 1317.0,681.8 1333.0,678.0 1349.0,672.9" fill="none" stroke="#ff0000" stroke-width="2" shape-rendering="crispEdges"/>
</g>
<text x="9" y="628" class="t" font-size="9.2" fill="#000" textLength="121" lengthAdjust="spacingAndGlyphs">MACD(12,26,9) 24.85 -82.62</text>
<g clip-path="url(#cr)">
<line x1="6" y1="742.5" x2="1617" y2="742.5" stroke="#000" stroke-width="1" stroke-dasharray="3,3" shape-rendering="crispEdges"/>
<line x1="6" y1="771.5" x2="1617" y2="771.5" stroke="#000" stroke-width="1" stroke-dasharray="3,3" shape-rendering="crispEdges"/>
<line x1="6" y1="806.5" x2="1617" y2="806.5" stroke="#000" stroke-width="1" stroke-dasharray="3,3" shape-rendering="crispEdges"/>
<polyline points="5,779.8 21,778.0 37,780.5 53,780.5 69,779.8 85,783.8 101,776.8 117,784.8 133,785.0 149,788.6 165,784.3 181,782.3 197,781.6 213,781.8 229,786.1 245,774.7 261,777.5 277,779.8 293,776.0 309,773.5 325,767.2 341,767.2 357,767.2 373,767.9 389,763.4 405,761.6 421,752.8 437,752.8 453,754.6 469,753.6 485,755.3 501,757.8 517,753.6 533,757.8 549,757.0 565,757.0 581,757.8 597,757.8 613,774.2 629,784.3 645,783.6 661,783.6 677,782.6 693,782.6 709,786.3 725,787.6 741,783.0 757,782.6 773,782.6 789,781.3 805,776.8 821,791.4 837,795.2 853,797.4 869,797.4 885,791.4 901,785.6 917,791.4 933,792.7 949,781.3 965,778.8 981,779.8 997,786.8 1013,779.8 1029,784.8 1045,784.8 1061,781.3 1077,781.3 1093,779.8 1109,774.2 1125,774.7 1141,776.0 1157,775.5 1173,774.2 1189,787.6 1205,787.6 1221,778.0 1237,774.2 1253,771.2 1269,771.2 1285,774.7 1301,767.9 1317,764.7 1333,763.6 1349,763.6" fill="none" stroke="#1e90ff" stroke-width="2" shape-rendering="crispEdges"/>
</g>
<text x="9" y="734" class="t" font-size="9.2" fill="#000" textLength="68" lengthAdjust="spacingAndGlyphs">RSI(14) 57.9430</text>
<rect x="4" y="29" width="1614" height="1" fill="#000"/>
<rect x="4" y="613" width="1614" height="1" fill="#000"/>
<rect x="4" y="29" width="1" height="585" fill="#000"/>
<rect x="1617" y="29" width="1" height="585" fill="#000"/>
<rect x="4" y="615" width="1614" height="1" fill="#000"/>
<rect x="4" y="719" width="1614" height="1" fill="#000"/>
<rect x="4" y="615" width="1" height="105" fill="#000"/>
<rect x="1617" y="615" width="1" height="105" fill="#000"/>
<rect x="4" y="721" width="1614" height="1" fill="#000"/>
<rect x="4" y="821" width="1614" height="1" fill="#000"/>
<rect x="4" y="721" width="1" height="101" fill="#000"/>
<rect x="1617" y="721" width="1" height="101" fill="#000"/>
<g shape-rendering="crispEdges">
<rect x="4" y="259" width="6" height="6" fill="#ff0000"/>
<rect x="6" y="261" width="2" height="2" fill="#fff"/>
<rect x="1611" y="259" width="6" height="6" fill="#ff0000"/>
<rect x="1613" y="261" width="2" height="2" fill="#fff"/>
<rect x="4" y="295" width="6" height="6" fill="#ff0000"/>
<rect x="6" y="297" width="2" height="2" fill="#fff"/>
<rect x="1611" y="295" width="6" height="6" fill="#ff0000"/>
<rect x="1613" y="297" width="2" height="2" fill="#fff"/>
<rect x="4" y="345" width="6" height="6" fill="#ffa500"/>
<rect x="6" y="347" width="2" height="2" fill="#fff"/>
<rect x="1611" y="345" width="6" height="6" fill="#ffa500"/>
<rect x="1613" y="347" width="2" height="2" fill="#fff"/>
<rect x="4" y="376" width="6" height="6" fill="#0000ff"/>
<rect x="6" y="378" width="2" height="2" fill="#fff"/>
<rect x="1611" y="376" width="6" height="6" fill="#0000ff"/>
<rect x="1613" y="378" width="2" height="2" fill="#fff"/>
<rect x="4" y="406" width="6" height="6" fill="#0000ff"/>
<rect x="6" y="408" width="2" height="2" fill="#fff"/>
<rect x="1611" y="406" width="6" height="6" fill="#0000ff"/>
<rect x="1613" y="408" width="2" height="2" fill="#fff"/>
</g>
<g shape-rendering="crispEdges">
<rect x="1618" y="49" width="2" height="1" fill="#000"/>
<rect x="1618" y="82" width="2" height="1" fill="#000"/>
<rect x="1618" y="115" width="2" height="1" fill="#000"/>
<rect x="1618" y="148" width="2" height="1" fill="#000"/>
<rect x="1618" y="181" width="2" height="1" fill="#000"/>
<rect x="1618" y="214" width="2" height="1" fill="#000"/>
<rect x="1618" y="247" width="2" height="1" fill="#000"/>
<rect x="1618" y="280" width="2" height="1" fill="#000"/>
<rect x="1618" y="313" width="2" height="1" fill="#000"/>
<rect x="1618" y="346" width="2" height="1" fill="#000"/>
<rect x="1618" y="379" width="2" height="1" fill="#000"/>
<rect x="1618" y="412" width="2" height="1" fill="#000"/>
<rect x="1618" y="445" width="2" height="1" fill="#000"/>
<rect x="1618" y="478" width="2" height="1" fill="#000"/>
<rect x="1618" y="511" width="2" height="1" fill="#000"/>
<rect x="1618" y="544" width="2" height="1" fill="#000"/>
<rect x="1618" y="577" width="2" height="1" fill="#000"/>
<rect x="1618" y="610" width="2" height="1" fill="#000"/>
</g>
<text x="1623" y="53" class="t" font-size="9.2" fill="#000" textLength="33" lengthAdjust="spacingAndGlyphs">33620.0</text>
<text x="1623" y="86" class="t" font-size="9.2" fill="#000" textLength="33" lengthAdjust="spacingAndGlyphs">33490.5</text>
<text x="1623" y="119" class="t" font-size="9.2" fill="#000" textLength="33" lengthAdjust="spacingAndGlyphs">33357.5</text>
<text x="1623" y="152" class="t" font-size="9.2" fill="#000" textLength="33" lengthAdjust="spacingAndGlyphs">33224.5</text>
<text x="1623" y="185" class="t" font-size="9.2" fill="#000" textLength="33" lengthAdjust="spacingAndGlyphs">33095.0</text>
<text x="1623" y="218" class="t" font-size="9.2" fill="#000" textLength="33" lengthAdjust="spacingAndGlyphs">32962.0</text>
<text x="1623" y="251" class="t" font-size="9.2" fill="#000" textLength="33" lengthAdjust="spacingAndGlyphs">32832.5</text>
<text x="1623" y="284" class="t" font-size="9.2" fill="#000" textLength="33" lengthAdjust="spacingAndGlyphs">32699.5</text>
<text x="1623" y="317" class="t" font-size="9.2" fill="#000" textLength="33" lengthAdjust="spacingAndGlyphs">32566.5</text>
<text x="1623" y="350" class="t" font-size="9.2" fill="#000" textLength="33" lengthAdjust="spacingAndGlyphs">32437.0</text>
<text x="1623" y="383" class="t" font-size="9.2" fill="#000" textLength="33" lengthAdjust="spacingAndGlyphs">32305.0</text>
<text x="1623" y="416" class="t" font-size="9.2" fill="#000" textLength="33" lengthAdjust="spacingAndGlyphs">32171.0</text>
<text x="1623" y="449" class="t" font-size="9.2" fill="#000" textLength="33" lengthAdjust="spacingAndGlyphs">32041.5</text>
<text x="1623" y="482" class="t" font-size="9.2" fill="#000" textLength="33" lengthAdjust="spacingAndGlyphs">31908.5</text>
<text x="1623" y="515" class="t" font-size="9.2" fill="#000" textLength="33" lengthAdjust="spacingAndGlyphs">31779.0</text>
<text x="1623" y="548" class="t" font-size="9.2" fill="#000" textLength="33" lengthAdjust="spacingAndGlyphs">31646.0</text>
<text x="1623" y="581" class="t" font-size="9.2" fill="#000" textLength="33" lengthAdjust="spacingAndGlyphs">31513.0</text>
<text x="1623" y="614" class="t" font-size="9.2" fill="#000" textLength="33" lengthAdjust="spacingAndGlyphs">31383.5</text>
<rect x="1619" y="256" width="41" height="11" fill="#ff0000" shape-rendering="crispEdges"/>
<text x="1623" y="265" class="w" font-size="9.2" fill="#fff" textLength="33" lengthAdjust="spacingAndGlyphs">32771.0</text>
<rect x="1619" y="292" width="41" height="11" fill="#ff0000" shape-rendering="crispEdges"/>
<text x="1623" y="301" class="w" font-size="9.2" fill="#fff" textLength="33" lengthAdjust="spacingAndGlyphs">32627.6</text>
<rect x="1619" y="326" width="41" height="11" fill="#000000" shape-rendering="crispEdges"/>
<text x="1623" y="335" class="w" font-size="9.2" fill="#fff" textLength="33" lengthAdjust="spacingAndGlyphs">32495.5</text>
<rect x="1619" y="342" width="41" height="11" fill="#ffa500" shape-rendering="crispEdges"/>
<text x="1623" y="351" class="w" font-size="9.2" fill="#fff" textLength="33" lengthAdjust="spacingAndGlyphs">32428.5</text>
<rect x="1619" y="373" width="41" height="11" fill="#0000ff" shape-rendering="crispEdges"/>
<text x="1623" y="382" class="w" font-size="9.2" fill="#fff" textLength="33" lengthAdjust="spacingAndGlyphs">32305.0</text>
<rect x="1619" y="403" width="41" height="11" fill="#0000ff" shape-rendering="crispEdges"/>
<text x="1623" y="412" class="w" font-size="9.2" fill="#fff" textLength="33" lengthAdjust="spacingAndGlyphs">32185.5</text>
<rect x="1618" y="617" width="2" height="1" fill="#000" shape-rendering="crispEdges"/>
<text x="1621" y="626" class="t" font-size="9.2" fill="#000" textLength="27" lengthAdjust="spacingAndGlyphs">173.36</text>
<rect x="1618" y="654" width="2" height="1" fill="#000" shape-rendering="crispEdges"/>
<text x="1621" y="658" class="t" font-size="9.2" fill="#000" textLength="18" lengthAdjust="spacingAndGlyphs">0.00</text>
<rect x="1618" y="719" width="2" height="1" fill="#000" shape-rendering="crispEdges"/>
<text x="1621" y="716" class="t" font-size="9.2" fill="#000" textLength="31" lengthAdjust="spacingAndGlyphs">-294.26</text>
<rect x="1618" y="723" width="2" height="1" fill="#000" shape-rendering="crispEdges"/>
<text x="1621" y="732" class="t" font-size="9.2" fill="#000" textLength="14" lengthAdjust="spacingAndGlyphs">100</text>
<text x="1620" y="746" class="t" font-size="9.2" fill="#000" textLength="10" lengthAdjust="spacingAndGlyphs">80</text>
<text x="1620" y="775" class="t" font-size="9.2" fill="#000" textLength="9.6" lengthAdjust="spacingAndGlyphs">50</text>
<text x="1620" y="810" class="t" font-size="9.2" fill="#000" textLength="9.6" lengthAdjust="spacingAndGlyphs">15</text>
<rect x="1618" y="821" width="2" height="1" fill="#000" shape-rendering="crispEdges"/>
<text x="1621" y="818" class="t" font-size="9.2" fill="#000" textLength="5" lengthAdjust="spacingAndGlyphs">0</text>
<rect x="5" y="822" width="1" height="3" fill="#000" shape-rendering="crispEdges"/>
<text x="4" y="834" class="t" font-size="9.2" fill="#000">27 Feb 2023</text>
<rect x="69" y="822" width="1" height="3" fill="#000" shape-rendering="crispEdges"/>
<text x="68" y="834" class="t" font-size="9.2" fill="#000">28 Feb 00:00</text>
<rect x="133" y="822" width="1" height="3" fill="#000" shape-rendering="crispEdges"/>
<text x="132" y="834" class="t" font-size="9.2" fill="#000">28 Feb 16:00</text>
<rect x="197" y="822" width="1" height="3" fill="#000" shape-rendering="crispEdges"/>
<text x="196" y="834" class="t" font-size="9.2" fill="#000">1 Mar 08:00</text>
<rect x="261" y="822" width="1" height="3" fill="#000" shape-rendering="crispEdges"/>
<text x="260" y="834" class="t" font-size="9.2" fill="#000">2 Mar 00:00</text>
<rect x="325" y="822" width="1" height="3" fill="#000" shape-rendering="crispEdges"/>
<text x="324" y="834" class="t" font-size="9.2" fill="#000">2 Mar 16:00</text>
<rect x="389" y="822" width="1" height="3" fill="#000" shape-rendering="crispEdges"/>
<text x="388" y="834" class="t" font-size="9.2" fill="#000">3 Mar 08:00</text>
<rect x="453" y="822" width="1" height="3" fill="#000" shape-rendering="crispEdges"/>
<text x="452" y="834" class="t" font-size="9.2" fill="#000">5 Mar 23:00</text>
<rect x="517" y="822" width="1" height="3" fill="#000" shape-rendering="crispEdges"/>
<text x="516" y="834" class="t" font-size="9.2" fill="#000">6 Mar 12:00</text>
<rect x="581" y="822" width="1" height="3" fill="#000" shape-rendering="crispEdges"/>
<text x="580" y="834" class="t" font-size="9.2" fill="#000">7 Mar 04:00</text>
<rect x="645" y="822" width="1" height="3" fill="#000" shape-rendering="crispEdges"/>
<text x="644" y="834" class="t" font-size="9.2" fill="#000">7 Mar 20:00</text>
<rect x="709" y="822" width="1" height="3" fill="#000" shape-rendering="crispEdges"/>
<text x="708" y="834" class="t" font-size="9.2" fill="#000">8 Mar 12:00</text>
<rect x="773" y="822" width="1" height="3" fill="#000" shape-rendering="crispEdges"/>
<text x="772" y="834" class="t" font-size="9.2" fill="#000">9 Mar 04:00</text>
<rect x="837" y="822" width="1" height="3" fill="#000" shape-rendering="crispEdges"/>
<text x="836" y="834" class="t" font-size="9.2" fill="#000">9 Mar 20:00</text>
<rect x="901" y="822" width="1" height="3" fill="#000" shape-rendering="crispEdges"/>
<text x="900" y="834" class="t" font-size="9.2" fill="#000">10 Mar 12:00</text>
<rect x="965" y="822" width="1" height="3" fill="#000" shape-rendering="crispEdges"/>
<text x="964" y="834" class="t" font-size="9.2" fill="#000">13 Mar 00:00</text>
<rect x="1029" y="822" width="1" height="3" fill="#000" shape-rendering="crispEdges"/>
<text x="1028" y="834" class="t" font-size="9.2" fill="#000">13 Mar 16:00</text>
<rect x="1093" y="822" width="1" height="3" fill="#000" shape-rendering="crispEdges"/>
<text x="1092" y="834" class="t" font-size="9.2" fill="#000">14 Mar 08:00</text>
<rect x="1157" y="822" width="1" height="3" fill="#000" shape-rendering="crispEdges"/>
<text x="1156" y="834" class="t" font-size="9.2" fill="#000">15 Mar 00:00</text>
<rect x="1221" y="822" width="1" height="3" fill="#000" shape-rendering="crispEdges"/>
<text x="1220" y="834" class="t" font-size="9.2" fill="#000">15 Mar 16:00</text>
<rect x="1285" y="822" width="1" height="3" fill="#000" shape-rendering="crispEdges"/>
<text x="1284" y="834" class="t" font-size="9.2" fill="#000">16 Mar 08:00</text>
<rect x="1349" y="822" width="1" height="3" fill="#000" shape-rendering="crispEdges"/>
<text x="1348" y="834" class="t" font-size="9.2" fill="#000">16 Mar 20:30</text>
</svg></body></html>
